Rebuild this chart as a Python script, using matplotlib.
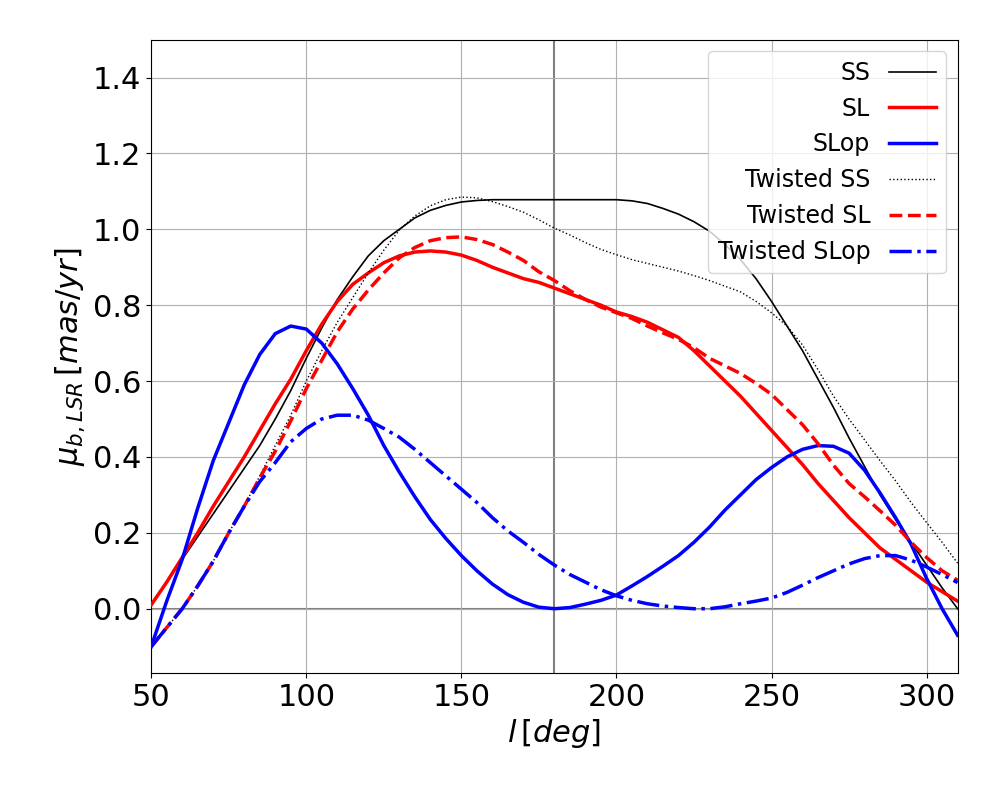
import matplotlib
matplotlib.use("Agg")
import matplotlib.pyplot as plt
import numpy as np

l_deg = list(range(50, 311, 5))

ss = [0.01, 0.07, 0.13, 0.19, 0.25, 0.31, 0.37, 0.43, 0.50, 0.575, 0.66, 0.74, 0.815, 0.875, 0.93,
      0.97, 1.0, 1.03, 1.05, 1.063, 1.072, 1.076, 1.078, 1.078, 1.078, 1.078, 1.078, 1.078, 1.078,
      1.078, 1.078, 1.075, 1.068, 1.055, 1.04, 1.02, 0.995, 0.96, 0.92, 0.87, 0.81, 0.745, 0.68,
      0.605, 0.53, 0.45, 0.375, 0.30, 0.235, 0.175, 0.115, 0.055, 0.0]

sl = [0.01, 0.07, 0.135, 0.20, 0.27, 0.335, 0.40, 0.47, 0.54, 0.605, 0.68, 0.75, 0.81, 0.855, 0.885,
      0.912, 0.93, 0.94, 0.943, 0.94, 0.932, 0.918, 0.90, 0.885, 0.87, 0.86, 0.845, 0.83, 0.815,
      0.80, 0.782, 0.77, 0.755, 0.735, 0.715, 0.68, 0.64, 0.60, 0.56, 0.515, 0.47, 0.425, 0.38,
      0.33, 0.285, 0.24, 0.20, 0.16, 0.13, 0.10, 0.07, 0.045, 0.02]

slop = [-0.10, 0.02, 0.13, 0.265, 0.39, 0.49, 0.59, 0.67, 0.725, 0.745, 0.737, 0.70, 0.645, 0.58, 0.51,
        0.43, 0.36, 0.295, 0.235, 0.185, 0.14, 0.10, 0.065, 0.037, 0.017, 0.004, 0.0, 0.003, 0.012,
        0.022, 0.036, 0.06, 0.085, 0.112, 0.14, 0.175, 0.215, 0.26, 0.30, 0.34, 0.372, 0.40, 0.42,
        0.43, 0.428, 0.41, 0.365, 0.305, 0.24, 0.17, 0.08, 0.0, -0.07]

tw_ss = [-0.10, -0.05, 0.0, 0.06, 0.125, 0.20, 0.27, 0.35, 0.43, 0.51, 0.60, 0.68, 0.755, 0.82, 0.885,
         0.945, 0.998, 1.035, 1.062, 1.078, 1.085, 1.083, 1.073, 1.06, 1.045, 1.025, 1.003, 0.985, 0.965,
         0.947, 0.933, 0.92, 0.91, 0.90, 0.89, 0.878, 0.865, 0.85, 0.835, 0.81, 0.78, 0.745, 0.695,
         0.63, 0.56, 0.50, 0.445, 0.39, 0.337, 0.28, 0.227, 0.175, 0.12]

tw_sl = [-0.10, -0.05, 0.0, 0.06, 0.125, 0.20, 0.27, 0.345, 0.415, 0.495, 0.58, 0.655, 0.73, 0.79, 0.84,
         0.885, 0.925, 0.952, 0.97, 0.978, 0.98, 0.973, 0.96, 0.94, 0.918, 0.888, 0.865, 0.838, 0.815,
         0.795, 0.78, 0.765, 0.745, 0.727, 0.71, 0.688, 0.66, 0.64, 0.62, 0.594, 0.565, 0.525, 0.485,
         0.435, 0.378, 0.33, 0.295, 0.258, 0.22, 0.175, 0.135, 0.10, 0.075]

tw_slop = [-0.10, -0.05, 0.0, 0.06, 0.125, 0.20, 0.27, 0.335, 0.385, 0.44, 0.475, 0.50, 0.51, 0.51, 0.497,
           0.475, 0.452, 0.42, 0.385, 0.35, 0.315, 0.28, 0.24, 0.205, 0.175, 0.143, 0.115, 0.09, 0.07,
           0.05, 0.034, 0.022, 0.013, 0.007, 0.003, 0.0, 0.0, 0.005, 0.013, 0.02, 0.028, 0.043, 0.062,
           0.082, 0.10, 0.118, 0.132, 0.14, 0.14, 0.128, 0.11, 0.09, 0.069]

fig = plt.figure(figsize=(10.08, 7.92), dpi=100)
ax = fig.add_axes([0.15, 0.15, 0.80, 0.80])

ax.grid(True, color='#b0b0b0', lw=0.8, zorder=0)
ax.axhline(0, color='gray', lw=1.5, zorder=1)
ax.axvline(180, color='gray', lw=1.5, zorder=1)

ax.plot(l_deg, ss, color='black', lw=1.2, ls='-', label='SS', zorder=3)
ax.plot(l_deg, sl, color='red', lw=2.5, ls='-', label='SL', zorder=3)
ax.plot(l_deg, slop, color='blue', lw=2.5, ls='-', label='SLop', zorder=3)
ax.plot(l_deg, tw_ss, color='black', lw=1.0, ls=':', label='Twisted SS', zorder=3)
ax.plot(l_deg, tw_sl, color='red', lw=2.5, ls='--', label='Twisted SL', zorder=3)
ax.plot(l_deg, tw_slop, color='blue', lw=2.5, ls='-.', label='Twisted SLop', zorder=3)

ax.set_xlim(50, 310)
ax.set_ylim(-0.17, 1.5)
ax.set_xticks([50, 100, 150, 200, 250, 300])
ax.set_yticks([0.0, 0.2, 0.4, 0.6, 0.8, 1.0, 1.2, 1.4])
ax.tick_params(labelsize=22)
ax.set_xlabel(r'$l\,[deg]$', fontsize=22)
ax.set_ylabel(r'$\mu_{b,LSR}\,[mas/yr]$', fontsize=22)

ax.legend(loc='upper right', fontsize=17, markerfirst=False)

fig.savefig('out.png', dpi=100)
